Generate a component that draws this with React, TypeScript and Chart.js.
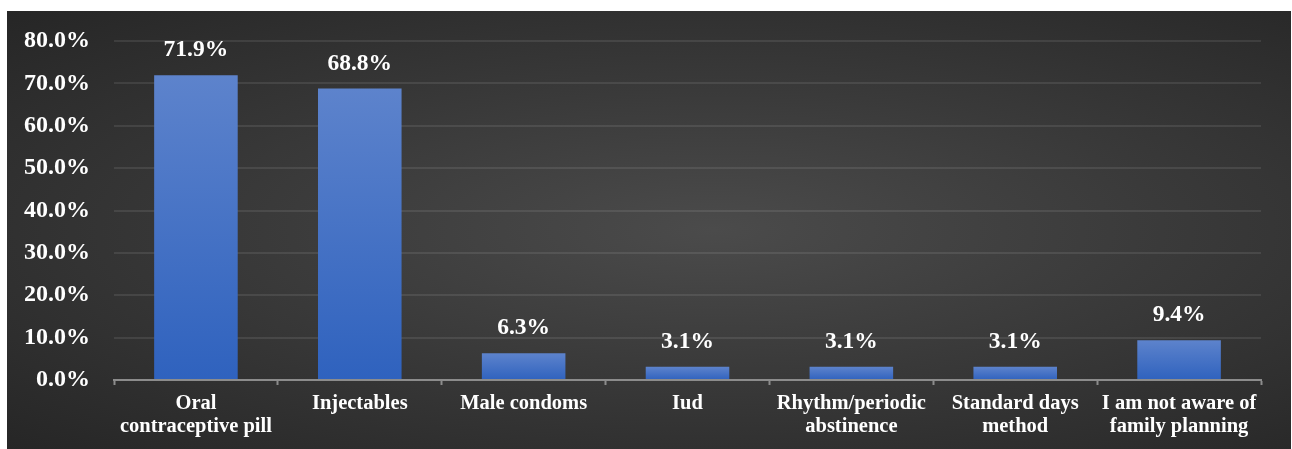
import React, { useEffect, useRef } from "react";
import { Chart, registerables } from "chart.js";

Chart.register(...registerables);

const categories: string[][] = [
  ["Oral", "contraceptive pill"],
  ["Injectables"],
  ["Male condoms"],
  ["Iud"],
  ["Rhythm/periodic", "abstinence"],
  ["Standard days", "method"],
  ["I am not aware of", "family planning"],
];
const shares: number[] = [71.9, 68.8, 6.3, 3.1, 3.1, 3.1, 9.4];
const yMax = 80;
const yStep = 10;

const FONT = "'Liberation Serif', 'Times New Roman', serif";

// Prints each bar's value just above it
const valueLabels = {
  id: "valueLabels",
  afterDatasetsDraw(chart: any) {
    const { ctx } = chart;
    const meta = chart.getDatasetMeta(0);
    ctx.save();
    ctx.fillStyle = "#ffffff";
    ctx.font = `bold 23.5px ${FONT}`;
    ctx.textAlign = "center";
    ctx.textBaseline = "middle";
    meta.data.forEach((bar: any, i: number) => {
      ctx.fillText(shares[i].toFixed(1) + "%", bar.x, bar.y - 25);
    });
    ctx.restore();
  },
};

export default function App() {
  const canvasRef = useRef<HTMLCanvasElement | null>(null);

  useEffect(() => {
    const canvas = canvasRef.current;
    if (!canvas) return;
    const chart = new Chart(canvas, {
      type: "bar",
      data: {
        labels: categories,
        datasets: [
          {
            data: shares,
            backgroundColor: (c: any) => {
              const ch = c.chart;
              const y = ch.scales?.y;
              if (!ch.chartArea || !y || c.type !== "data") return "#4472c4";
              const top = y.getPixelForValue(c.raw as number);
              const bottom = y.getPixelForValue(0);
              const g = ch.ctx.createLinearGradient(0, top, 0, bottom);
              g.addColorStop(0, "#5d83cc");
              g.addColorStop(1, "#2f62be");
              return g;
            },
            borderWidth: 0,
            categoryPercentage: 1,
            barPercentage: 0.51,
          },
        ],
      },
      options: {
        responsive: false,
        animation: false,
        layout: { padding: { top: 41, right: 31, left: 0, bottom: 0 } },
        plugins: {
          legend: { display: false },
          tooltip: { enabled: false },
        },
        scales: {
          x: {
            afterFit: (s: any) => {
              s.height = 69;
            },
            grid: {
              display: true,
              drawOnChartArea: false,
              drawTicks: true,
              tickLength: 5,
              tickWidth: 2,
              color: "#8c8c8c",
              offset: true,
            },
            border: { display: true, color: "#8c8c8c", width: 2 },
            ticks: {
              color: "#ffffff",
              padding: 7,
              maxRotation: 0,
              autoSkip: false,
              font: { family: FONT, size: 20.5, weight: "bold", lineHeight: 1.13 },
            },
          },
          y: {
            min: 0,
            max: yMax,
            afterFit: (s: any) => {
              s.width = 114;
            },
            grid: {
              color: "rgba(255,255,255,0.09)",
              lineWidth: 2,
              drawTicks: false,
            },
            border: { display: false },
            ticks: {
              stepSize: yStep,
              color: "#ffffff",
              padding: 24,
              callback: (v: any) => Number(v).toFixed(1) + "%",
              font: { family: FONT, size: 24, weight: "bold" },
            },
          },
        },
      },
      plugins: [valueLabels],
    });
    return () => chart.destroy();
  }, []);

  return (
    <div
      style={{
        position: "fixed",
        left: 0,
        top: 0,
        width: 1292,
        height: 449,
        background: "#ffffff",
        overflow: "hidden",
      }}
    >
      <div
        style={{
          position: "absolute",
          left: 7,
          top: 11,
          width: 1284,
          height: 438,
          background:
            "radial-gradient(ellipse at 55% 50%, #4b4b4b 0%, #3a3a3a 45%, #262626 100%)",
        }}
      />
      <canvas
        ref={canvasRef}
        width={1292}
        height={449}
        style={{ position: "absolute", left: 0, top: 0, width: 1292, height: 449 }}
      />
    </div>
  );
}
